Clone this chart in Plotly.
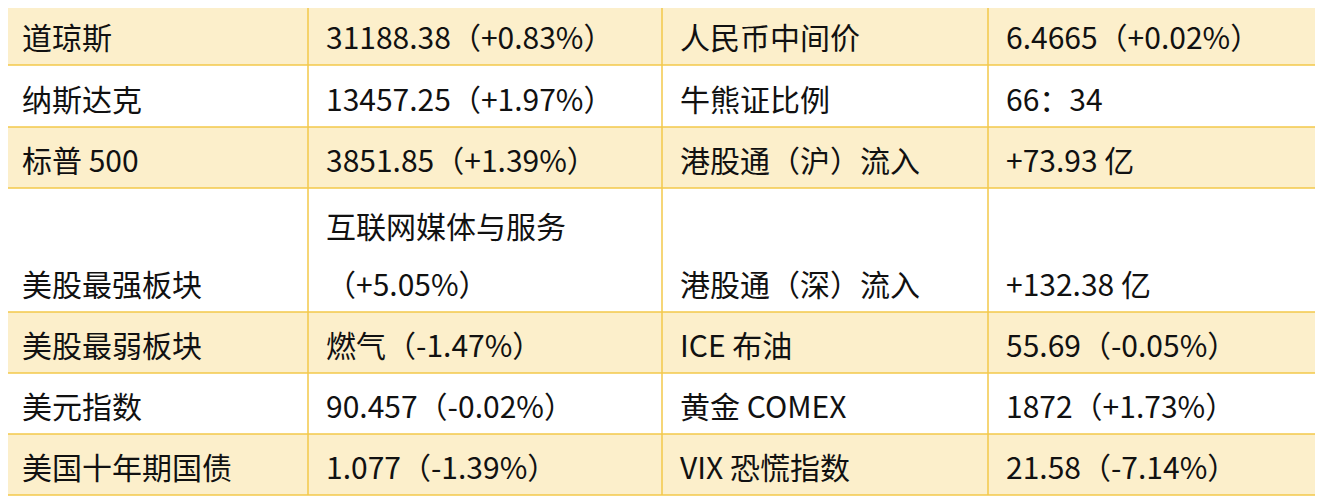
import plotly.graph_objects as go

col1 = ["道琼斯", "纳斯达克", "标普 500", "美股最强板块", "美股最弱板块", "美元指数", "美国十年期国债"]
col2 = ["31188.38（+0.83%）", "13457.25（+1.97%）", "3851.85（+1.39%）", "互联网媒体与服务|（+5.05%）",
        "燃气（-1.47%）", "90.457（-0.02%）", "1.077（-1.39%）"]
col3 = ["人民币中间价", "牛熊证比例", "港股通（沪）流入", "港股通（深）流入", "ICE 布油", "黄金 COMEX", "VIX 恐慌指数"]
col4 = ["6.4665（+0.02%）", "66：34", "+73.93 亿", "+132.38 亿", "55.69（-0.05%）", "1872（+1.73%）", "21.58（-7.14%）"]
columns = [col1, col2, col3, col4]

xb = [4, 308, 662, 988, 1319]
yb = [4, 65, 127, 188, 312, 373, 434, 495]
fills = ["#FCEFCB", "#FFFFFF"]
border = "#F3C94A"
OFF = 8  # page body margin

fig = go.Figure()
shapes, anns = [], []
for r in range(7):
    shapes.append(dict(type="rect", x0=xb[0], x1=xb[-1], y0=yb[r], y1=yb[r+1],
                       fillcolor=fills[r % 2], line=dict(width=0), layer="below"))
for x in xb:
    shapes.append(dict(type="line", x0=x, x1=x, y0=yb[0], y1=yb[-1], line=dict(color=border, width=1.5)))
for y in yb:
    shapes.append(dict(type="line", x0=xb[0], x1=xb[-1], y0=y, y1=y, line=dict(color=border, width=1.5)))
for c, col in enumerate(columns):
    for r, txt in enumerate(col):
        lines = txt.split("|")
        for k, ln in enumerate(reversed(lines)):
            anns.append(dict(x=xb[c] + 16, y=yb[r+1] - 5 - k * 58, text=ln, showarrow=False,
                             xanchor="left", yanchor="bottom", align="left",
                             font=dict(family="Noto Sans CJK SC", size=30, color="#111111")))
fig.update_layout(width=1323, height=498, margin=dict(l=0, r=0, t=0, b=0),
                  paper_bgcolor="white", plot_bgcolor="white",
                  xaxis=dict(range=[OFF, 1323 + OFF], visible=False, fixedrange=True),
                  yaxis=dict(range=[498 + OFF, OFF], visible=False, fixedrange=True),
                  shapes=shapes, annotations=anns, showlegend=False)
fig.write_html("out.html")
